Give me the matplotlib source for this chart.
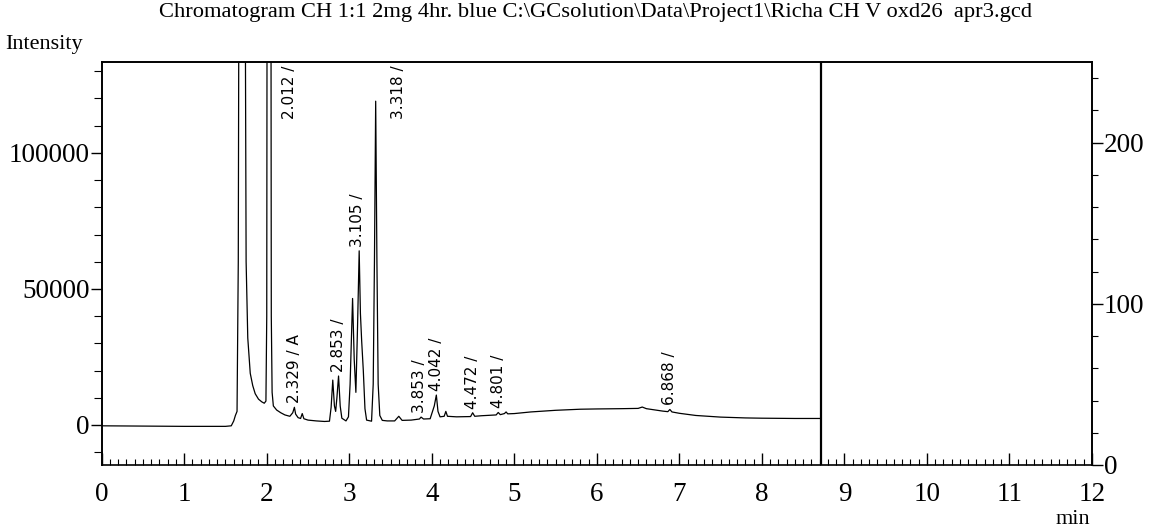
import matplotlib.pyplot as plt

# retention time (min) and intensity of the trace
trace_time = [0.0, 0.5, 1.0, 1.5, 1.57, 1.60, 1.62, 1.64, 1.655, 1.665, 1.735, 1.75, 1.77,
              1.80, 1.83, 1.86, 1.90, 1.94, 1.97, 1.99, 2.0, 2.005, 2.05, 2.055, 2.065, 2.08,
              2.12, 2.17, 2.22, 2.28, 2.315, 2.335, 2.35, 2.38, 2.41, 2.43, 2.45, 2.5, 2.6,
              2.7, 2.76, 2.78, 2.80, 2.82, 2.835, 2.85, 2.87, 2.89, 2.91, 2.96, 2.99, 3.01,
              3.04, 3.06, 3.08, 3.10, 3.12, 3.135, 3.15, 3.17, 3.19, 3.21, 3.27, 3.29, 3.305,
              3.32, 3.335, 3.35, 3.37, 3.40, 3.46, 3.55, 3.6, 3.64, 3.75, 3.85, 3.87, 3.9,
              3.98, 4.03, 4.055, 4.075, 4.10, 4.15, 4.17, 4.19, 4.3, 4.47, 4.495, 4.52, 4.6,
              4.78, 4.805, 4.83, 4.88, 4.9, 4.92, 5.0, 5.2, 5.5, 5.8, 6.0, 6.3, 6.5, 6.55,
              6.6, 6.8, 6.86, 6.885, 6.91, 7.0, 7.2, 7.5, 7.8, 8.0, 8.4, 8.72]
trace_int = [-300, -400, -500, -500, -300, 1500, 3500, 5000, 60000, 200000, 200000, 60000, 32000,
             19000, 14500, 11500, 9500, 8500, 8000, 8800, 40000, 200000, 200000, 40000, 12000, 7000,
             5500, 4500, 3700, 3200, 4500, 6500, 4000, 2700, 2400, 4200, 2300, 1800, 1500,
             1300, 1400, 6500, 16500, 7000, 5000, 10000, 18000, 7000, 2500, 1500, 3000, 15000,
             46500, 24000, 12000, 36000, 64000, 41000, 31000, 20000, 6000, 1800, 1400, 15000, 60000,
             119000, 60000, 15000, 3500, 1700, 1500, 1500, 3200, 1700, 1800, 2200, 2900, 2200,
             2300, 7000, 11000, 5000, 3000, 3200, 5000, 3200, 3000, 3100, 4500, 3200, 3400,
             3700, 4600, 3800, 4200, 4800, 4100, 4200, 4800, 5400, 5800, 5900, 6000, 6100, 6600,
             6000, 5100, 4900, 5700, 4800, 4300, 3500, 2900, 2600, 2500, 2400, 2400]
end_time = 8.72

# peak labels: text, time, height of the label anchor
peak_labels = ["2.329 / A", "2.853 /", "3.105 /", "3.853 /", "4.042 /", "4.472 /", "4.801 /", "6.868 /"]
peak_times = [2.335, 2.87, 3.10, 3.85, 4.055, 4.495, 4.805, 6.885]
peak_heights = [6500, 18000, 64000, 2900, 11000, 4500, 4600, 5700]
# labels of the off-scale peaks sit beside them near the top
top_labels = ["2.012 /", "3.318 /"]
top_times = [2.28, 3.60]

title = "Chromatogram CH 1:1 2mg 4hr. blue C:\\GCsolution\\Data\\Project1\\Richa CH V oxd26  apr3.gcd"

plt.rcParams['font.family'] = ['Liberation Serif', 'DejaVu Serif']
label_font = ['Liberation Sans Narrow', 'DejaVu Sans']

W, H = 1149, 528
fig = plt.figure(figsize=(W / 100, H / 100), dpi=100)
left, right, top, bottom = 101.7, 1092, 62, 465
ax = fig.add_axes([left / W, 1 - bottom / H, (right - left) / W, (bottom - top) / H])

ax.plot(trace_time, trace_int, color='black', lw=0.9)
ax.axvline(end_time, color='black', lw=1.6)

ax.set_xlim(0, 12)
ax.set_ylim(-14700, 133400)

for txt, t, h in zip(peak_labels, peak_times, peak_heights):
    ax.annotate(txt, xy=(t, h), xytext=(0, 3), textcoords='offset points', rotation=90,
                ha='center', va='bottom', fontsize=11, family=label_font)
for txt, t in zip(top_labels, top_times):
    ax.text(t, 132000, txt, rotation=90, ha='center', va='top', fontsize=11, family=label_font)

# bottom axis: ticks pointing in, every 0.1 min
ax.set_xticks(range(13))
ax.set_xticks([i / 10 for i in range(121)], minor=True)
ax.tick_params(axis='x', which='major', direction='in', length=9, width=1, labelsize=19.5, pad=12)
ax.tick_params(axis='x', which='minor', direction='in', length=4, width=0.8)

ax.set_yticks([0, 50000, 100000])
ax.set_yticks(range(-10000, 130001, 10000), minor=True)
ax.tick_params(axis='y', which='major', direction='out', length=8, width=1, labelsize=19.5, pad=0.5)
ax.tick_params(axis='y', which='minor', direction='out', length=6, width=0.8)

ax2 = ax.twinx()
ax2.set_ylim(0, 250)
ax2.set_yticks([0, 100, 200])
ax2.set_yticks(range(0, 241, 20), minor=True)
ax2.tick_params(axis='y', which='major', direction='out', length=8, width=1, labelsize=19.5, pad=0.5)
ax2.tick_params(axis='y', which='minor', direction='out', length=4, width=0.8)
ax2.spines['right'].set_linestyle((0, (6, 1)))

for a in (ax, ax2):
    for s in a.spines.values():
        s.set_linewidth(1.2)
ax.spines['bottom'].set_visible(False)
ax2.spines['bottom'].set_linewidth(1.2)

fig.text(159 / W, 1 - 13 / H, title, fontsize=16.2, ha='left', va='center')
fig.text(5 / W, 1 - 45 / H, "Intensity", fontsize=16, ha='left', va='center')
fig.text(1073 / W, 1 - 519 / H, "min", fontsize=16, ha='center', va='center')

fig.savefig("out.png", dpi=100)
